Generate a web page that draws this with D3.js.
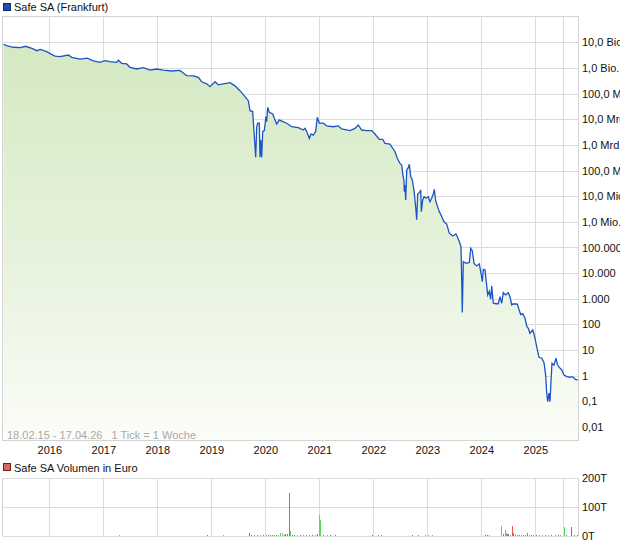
<!DOCTYPE html>
<html lang="de">
<head>
<meta charset="UTF-8"/>
<title>Safe SA (Frankfurt)</title>
<script src="https://d3js.org/d3.v7.min.js"></script>
<style>
  body { margin: 0; background: #fff; }
  svg { display: block; font-family: "Liberation Sans", Arial, sans-serif; font-size: 11px; }
  .grid line { stroke: #dcdcdc; shape-rendering: crispEdges; }
  .frame { fill: none; stroke: #d4d4d4; shape-rendering: crispEdges; }
  .axis path, .axis line { display: none; }
  .axis text { fill: #111; font-size: 11px; }
  .note { fill: #a9a9a9; white-space: pre; }
</style>
</head>
<body>
<script>
  // weekly closing prices (decimal year, EUR)
  var priceYears = [
    2015.137, 2015.211, 2015.328, 2015.457, 2015.55, 2015.674, 2015.767, 2015.828, 2015.952, 2016.044,
    2016.106, 2016.198, 2016.352, 2016.415, 2016.569, 2016.704, 2016.815, 2016.939, 2017.031, 2017.124,
    2017.248, 2017.278, 2017.341, 2017.433, 2017.494, 2017.619, 2017.741, 2017.865, 2017.989, 2018.111,
    2018.267, 2018.42, 2018.544, 2018.667, 2018.759, 2018.822, 2018.915, 2018.976, 2019.069, 2019.13,
    2019.222, 2019.346, 2019.439, 2019.531, 2019.624, 2019.685, 2019.717, 2019.767, 2019.778, 2019.791,
    2019.822, 2019.841, 2019.859, 2019.889, 2019.902, 2019.915, 2019.933, 2019.952, 2019.981, 2020.013,
    2020.026, 2020.044, 2020.074, 2020.137, 2020.18, 2020.211, 2020.259, 2020.304, 2020.396, 2020.489,
    2020.611, 2020.704, 2020.735, 2020.767, 2020.815, 2020.846, 2020.889, 2020.933, 2020.963, 2021.0,
    2021.074, 2021.137, 2021.259, 2021.352, 2021.415, 2021.569, 2021.661, 2021.722, 2021.785, 2021.878,
    2021.97, 2022.031, 2022.111, 2022.174, 2022.217, 2022.309, 2022.359, 2022.402, 2022.444, 2022.494,
    2022.526, 2022.544, 2022.569, 2022.574, 2022.587, 2022.6, 2022.619, 2022.648, 2022.667, 2022.693,
    2022.722, 2022.754, 2022.785, 2022.804, 2022.822, 2022.852, 2022.878, 2022.889, 2022.915, 2022.939,
    2022.976, 2023.019, 2023.05, 2023.081, 2023.111, 2023.13, 2023.156, 2023.185, 2023.222, 2023.267,
    2023.309, 2023.359, 2023.407, 2023.47, 2023.531, 2023.593, 2023.624, 2023.637, 2023.648, 2023.667,
    2023.717, 2023.778, 2023.804, 2023.833, 2023.865, 2023.915, 2023.963, 2024.0, 2024.019, 2024.037,
    2024.069, 2024.087, 2024.119, 2024.148, 2024.174, 2024.193, 2024.222, 2024.272, 2024.315, 2024.346,
    2024.378, 2024.407, 2024.452, 2024.5, 2024.531, 2024.563, 2024.593, 2024.667, 2024.698, 2024.73,
    2024.767, 2024.809, 2024.841, 2024.87, 2024.902, 2024.952, 2024.981, 2025.026, 2025.088, 2025.135,
    2025.234, 2025.318, 2025.38, 2025.416, 2025.453, 2025.5, 2025.536, 2025.573, 2025.609, 2025.682,
    2025.755, 2025.803, 2025.876, 2025.964, 2026.025, 2026.076, 2026.138, 2026.182, 2026.233, 2026.284
  ];
  var priceValues = [
    8.4e12, 7.2e12, 6.4e12, 6.2e12, 7.0e12, 5.8e12, 4.7e12, 5.3e12, 4.3e12, 3.4e12,
    2.9e12, 2.75e12, 3.2e12, 2.6e12, 2.2e12, 2.4e12, 1.9e12, 1.66e12, 1.92e12, 1.75e12,
    1.66e12, 2.0e12, 1.52e12, 1.43e12, 1.06e12, 9.1e11, 1.02e12, 8.3e11, 9.1e11, 8.3e11,
    7.6e11, 8.0e11, 5.0e11, 4.9e11, 4.3e11, 2.9e11, 2.4e11, 1.86e11, 2.9e11, 2.2e11,
    2.4e11, 2.66e11, 2.0e11, 1.3e11, 7.6e10, 5.3e10, 2.15e10, 2.0e10, 8.0e9, 3.3e9,
    3.3e8, 5.1e9, 7.0e9, 7.0e9, 3.3e8, 1.55e9, 3.3e8, 3.3e9, 3.6e9, 1.26e10,
    8.0e9, 2.9e10, 1.87e10, 1.6e10, 9.4e9, 6.5e9, 9.4e9, 8.5e9, 7.0e9, 5.1e9,
    4.7e9, 3.8e9, 4.4e9, 3.3e9, 1.8e9, 2.66e9, 2.4e9, 3.3e9, 1.19e10, 7.0e9,
    7.0e9, 5.5e9, 5.1e9, 5.5e9, 4.2e9, 3.6e9, 4.4e9, 6.0e9, 3.8e9, 3.6e9,
    3.6e9, 2.66e9, 1.65e9, 1.65e9, 1.15e9, 1.08e9, 7.4e8, 5.4e8, 3.0e8, 1.9e8,
    1.65e8, 7.8e7, 3.7e7, 1.5e7, 2.7e7, 7.1e6, 1.05e8, 1.3e8, 1.75e8, 5.8e7,
    4.3e7, 1.64e7, 3.7e6, 1.2e6, 1.22e7, 1.37e7, 1.75e7, 2.5e6, 7.1e6, 9.5e6,
    8.3e6, 9.5e6, 6.1e6, 8.3e6, 1.22e7, 1.86e7, 6.5e6, 4.2e6, 2.5e6, 1.6e6,
    1.0e6, 8.2e5, 3.6e5, 2.8e5, 3.4e5, 1.7e5, 1.07e5, 5.4e3, 290, 2.8e4,
    2.4e4, 2.6e4, 9.3e4, 7.5e4, 2.4e4, 1.9e4, 2.3e4, 8.5e3, 4.6e3, 1.41e4,
    1.33e4, 5.8e3, 1.41e3, 1.96e3, 955, 3.15e3, 670, 640, 640, 1.21e3,
    670, 1.73e3, 1.41e3, 1.73e3, 1.21e3, 575, 640, 620, 380, 242,
    264, 174, 85, 71, 45, 61, 39, 18.4, 8.7, 5.2,
    4.8, 3.2, 0.98, 0.21, 0.097, 0.21, 0.097, 0.59, 3.05, 2.6,
    4.8, 2.8, 2.1, 1.68, 1.07, 0.92, 0.87, 0.92, 0.73, 0.68
  ];

  // weekly volume in thousand EUR, up = 1 green / 0 red
  var volYears = [
    2017.29, 2018.92, 2019.22, 2019.70, 2019.74, 2019.79, 2019.85, 2019.90, 2019.96, 2020.01,
    2020.05, 2020.09, 2020.12, 2020.16, 2020.20, 2020.24, 2020.27, 2020.31, 2020.35, 2020.36,
    2020.40, 2020.43, 2020.46, 2020.49, 2020.53, 2020.59, 2020.64, 2020.70, 2020.75, 2020.81,
    2020.86, 2020.92, 2020.96, 2020.99, 2021.01, 2021.02, 2021.07, 2021.14, 2021.20, 2021.29,
    2021.38, 2021.48, 2021.68, 2021.75, 2021.86, 2021.98, 2022.09, 2022.14, 2022.21, 2022.31,
    2022.46, 2022.61, 2022.72, 2022.83, 2022.96, 2023.01, 2023.09, 2023.18, 2023.33, 2023.53,
    2023.72, 2023.79, 2023.88, 2024.07, 2024.11, 2024.14, 2024.20, 2024.27, 2024.36, 2024.40,
    2024.44, 2024.46, 2024.48, 2024.49, 2024.53, 2024.57, 2024.58, 2024.62, 2024.66, 2024.70,
    2024.73, 2024.77, 2024.81, 2024.85, 2024.88, 2024.92, 2024.96, 2025.03, 2025.14, 2025.24,
    2025.35, 2025.46, 2025.57, 2025.72, 2025.83, 2025.90, 2026.02, 2026.06, 2026.15, 2026.21,
    2026.27
  ];
  var volValues = [
    3, 4, 4, 9, 4, 2, 2, 2, 2, 2,
    5, 4, 5, 2, 3, 3, 12, 10, 5, 6,
    7, 150, 18, 3, 2, 2, 3, 2, 2, 3,
    2, 4, 6, 72, 12, 55, 3, 2, 2, 2,
    1.5, 1.5, 1.5, 1.5, 1.5, 2, 2, 2, 1.5, 1.5,
    1.5, 1.5, 2, 2, 2, 3, 2, 1.5, 1.5, 1.5,
    1.5, 1.5, 1.5, 3, 2, 2, 1.5, 1.5, 35, 6,
    20, 12, 8, 6, 4, 35, 10, 6, 4, 5,
    3, 4, 5, 10, 4, 3, 2, 3, 2, 2,
    2, 2, 3, 3, 3, 4, 30, 3, 30, 3,
    2
  ];
  var volUp = [
    1, 0, 1, 0, 0, 1, 0, 1, 0, 1,
    0, 0, 0, 1, 0, 1, 1, 1, 0, 0,
    0, 0, 1, 0, 0, 1, 0, 1, 0, 1,
    0, 1, 0, 1, 0, 1, 0, 1, 0, 0,
    1, 0, 0, 1, 0, 0, 1, 0, 1, 0,
    0, 1, 0, 0, 1, 1, 1, 0, 0, 1,
    0, 0, 1, 0, 0, 1, 0, 1, 1, 0,
    1, 1, 0, 0, 1, 0, 0, 1, 0, 0,
    1, 0, 0, 0, 1, 0, 0, 0, 0, 1,
    0, 1, 0, 1, 0, 1, 1, 0, 0, 0,
    0
  ];

  var yTickValues = [1e13, 1e12, 1e11, 1e10, 1e9, 1e8, 1e7, 1e6, 1e5, 1e4, 1e3, 100, 10, 1, 0.1, 0.01];
  var yTickLabels = ["10,0 Bio.", "1,0 Bio.", "100,0 Mrd.", "10,0 Mrd.", "1,0 Mrd.", "100,0 Mio.", "10,0 Mio.",
    "1,0 Mio.", "100.000", "10.000", "1.000", "100", "10", "1", "0,1", "0,01"];
  var gridYears = [2016, 2017, 2018, 2019, 2020, 2021, 2022, 2023, 2024, 2025, 2026];
  var labelYears = [2016, 2017, 2018, 2019, 2020, 2021, 2022, 2023, 2024, 2025];
  var volTicks = [0, 100, 200];
  var volTickLabels = ["0T", "100T", "200T"];

  var W = 620, H = 546;
  var plot = {left: 3, right: 578, top: 16, bottom: 440};
  var vol = {top: 478, bottom: 536};

  // week axis: 2025 has fewer traded weeks, so it is compressed
  var x = d3.scaleLinear()
    .domain([2015.13, 2016, 2025, 2026, 2026.29])
    .range([plot.left, 49.3, 535.3, 562.7, plot.right]);
  var y = d3.scaleLog().domain([0.01, 1e13]).range([427, 42.3]);
  var vy = d3.scaleLinear().domain([0, 200]).range([vol.bottom, vol.top]);

  var prices = priceYears.map(function(t, i) { return {t: t, v: priceValues[i]}; });
  var volumes = volYears.map(function(t, i) { return {t: t, v: volValues[i], up: volUp[i]}; });

  var svg = d3.select("body").append("svg")
    .attr("width", W)
    .attr("height", H);

  var defs = svg.append("defs");
  var grad = defs.append("linearGradient")
    .attr("id", "fillGrad")
    .attr("gradientUnits", "userSpaceOnUse")
    .attr("x1", 0).attr("y1", plot.top).attr("x2", 0).attr("y2", plot.bottom);
  grad.append("stop").attr("offset", "0").attr("stop-color", "#d2e8bf");
  grad.append("stop").attr("offset", "0.55").attr("stop-color", "#e6f2dc");
  grad.append("stop").attr("offset", "1").attr("stop-color", "#fbfdf8");

  defs.append("clipPath").attr("id", "clipMain")
    .append("rect")
    .attr("x", plot.left).attr("y", plot.top)
    .attr("width", plot.right - plot.left).attr("height", plot.bottom - plot.top);

  // legend
  svg.append("rect")
    .attr("x", 3.5).attr("y", 3.5).attr("width", 7).attr("height", 7)
    .attr("fill", "#1f4fae").attr("stroke", "#0d2a66");
  svg.append("text").attr("x", 14).attr("y", 11).attr("fill", "#111").text("Safe SA (Frankfurt)");

  // main grid
  var grid = svg.append("g").attr("class", "grid");
  grid.selectAll(".gy").data(yTickValues).enter().append("line")
    .attr("x1", plot.left).attr("x2", plot.right)
    .attr("y1", function(d) { return Math.round(y(d)) + 0.5; })
    .attr("y2", function(d) { return Math.round(y(d)) + 0.5; });
  grid.selectAll(".gx").data(gridYears).enter().append("line")
    .attr("y1", plot.top).attr("y2", plot.bottom)
    .attr("x1", function(d) { return Math.round(x(d)) + 0.5; })
    .attr("x2", function(d) { return Math.round(x(d)) + 0.5; });

  var area = d3.area()
    .x(function(d) { return x(d.t); })
    .y0(plot.bottom)
    .y1(function(d) { return y(d.v); });
  var line = d3.line()
    .x(function(d) { return x(d.t); })
    .y(function(d) { return y(d.v); });

  var main = svg.append("g").attr("clip-path", "url(#clipMain)");
  main.append("path").datum(prices)
    .attr("d", area)
    .attr("fill", "url(#fillGrad)");
  main.append("path").datum(prices)
    .attr("d", line)
    .attr("fill", "none")
    .attr("stroke", "#1b54c6")
    .attr("stroke-width", 1.3)
    .attr("stroke-linejoin", "miter");

  svg.append("rect").attr("class", "frame")
    .attr("x", plot.left - 0.5).attr("y", plot.top + 0.5)
    .attr("width", plot.right - plot.left + 1).attr("height", plot.bottom - plot.top);

  svg.append("text").attr("class", "note")
    .attr("x", 7).attr("y", 439)
    .text("18.02.15 - 17.04.26   1 Tick = 1 Woche");

  // axes
  svg.append("g").attr("class", "axis")
    .attr("transform", "translate(" + plot.right + ",0)")
    .call(d3.axisRight(y).tickValues(yTickValues).tickSize(0).tickPadding(4)
      .tickFormat(function(d, i) { return yTickLabels[i]; }));

  svg.append("g").attr("class", "axis")
    .attr("transform", "translate(0," + (plot.bottom + 3) + ")")
    .call(d3.axisBottom(x).tickValues(labelYears).tickSize(0).tickPadding(3)
      .tickFormat(function(d) { return String(d); }));

  // volume panel
  svg.append("rect")
    .attr("x", 3.5).attr("y", 463.5).attr("width", 7).attr("height", 7)
    .attr("fill", "#dc6660").attr("stroke", "#6b2523");
  svg.append("text").attr("x", 14).attr("y", 472).attr("fill", "#111").text("Safe SA Volumen in Euro");

  var vgrid = svg.append("g").attr("class", "grid");
  vgrid.selectAll(".vy").data(volTicks).enter().append("line")
    .attr("x1", plot.left).attr("x2", plot.right)
    .attr("y1", function(d) { return Math.round(vy(d)) + 0.5; })
    .attr("y2", function(d) { return Math.round(vy(d)) + 0.5; });
  vgrid.selectAll(".vx").data(gridYears).enter().append("line")
    .attr("y1", vol.top).attr("y2", vol.bottom)
    .attr("x1", function(d) { return Math.round(x(d)) + 0.5; })
    .attr("x2", function(d) { return Math.round(x(d)) + 0.5; });
  svg.append("line")
    .attr("x1", plot.left - 0.5).attr("x2", plot.left - 0.5)
    .attr("y1", vol.top).attr("y2", vol.bottom)
    .attr("stroke", "#d4d4d4");
  svg.append("line")
    .attr("x1", plot.right + 0.5).attr("x2", plot.right + 0.5)
    .attr("y1", vol.top).attr("y2", vol.bottom)
    .attr("stroke", "#d4d4d4");

  svg.append("g").selectAll("rect").data(volumes).enter().append("rect")
    .attr("x", function(d) { return Math.round(x(d.t)); })
    .attr("width", 1)
    .attr("y", function(d) { return vy(d.v); })
    .attr("height", function(d) { return vy(0) - vy(d.v); })
    .attr("fill", function(d) { return d.up ? "#5ad85a" : "#e05858"; })
    .attr("shape-rendering", "crispEdges");

  svg.append("g").attr("class", "axis")
    .attr("transform", "translate(" + plot.right + ",0)")
    .call(d3.axisRight(vy).tickValues(volTicks).tickSize(0).tickPadding(4)
      .tickFormat(function(d, i) { return volTickLabels[i]; }));
</script>
</body>
</html>
